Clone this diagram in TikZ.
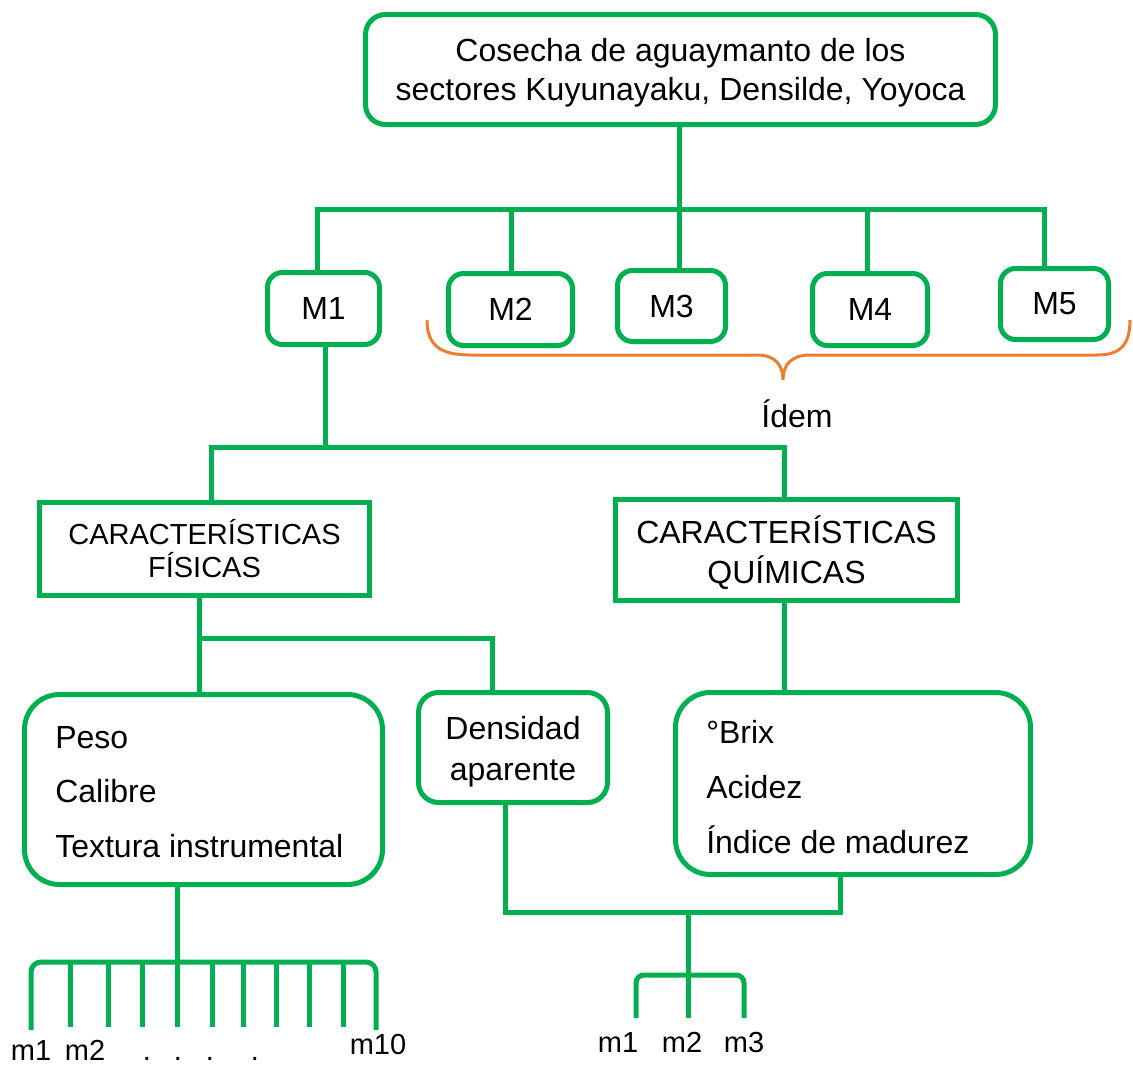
\documentclass[tikz,border=0pt]{standalone}
\usepackage{fontspec}
\setmainfont{Liberation Sans}
\definecolor{gr}{HTML}{00B050}
\definecolor{orb}{HTML}{ED7D31}
\begin{document}
\begin{tikzpicture}[x=0.75pt,y=-0.75pt,
  ln/.style={draw=gr,line width=3.75pt},
  gbox/.style={draw=gr,line width=3.75pt,inner sep=0pt,align=center,font=\fontsize{24}{29}\selectfont},
  rbox/.style={gbox,rounded corners=15*0.75pt},
  txt/.style={inner sep=0pt,font=\fontsize{24}{29}\selectfont},
  stxt/.style={inner sep=0pt,font=\fontsize{21.75}{26}\selectfont}]
\useasboundingbox (0,0) rectangle (1133,1065);

% boxes
\node[rbox,rounded corners=20*0.75pt,minimum width=630*0.75pt,minimum height=110*0.75pt] (top) at (680.5,69.5) {};
\node[txt,align=center] (toptxt) at (680.5,72.5)
  {Cosecha de aguaymanto de los\\sectores Kuyunayaku, Densilde, Yoyoca};
\node[rbox,minimum width=112*0.75pt,minimum height=72*0.75pt] (M1) at (323.5,308.5) {M1};
\node[rbox,minimum width=124*0.75pt,minimum height=72*0.75pt] (M2) at (510.5,309.5) {M2};
\node[rbox,minimum width=108*0.75pt,minimum height=71*0.75pt] (M3) at (671.5,306) {M3};
\node[rbox,minimum width=115*0.75pt,minimum height=72*0.75pt] (M4) at (870,309.5) {M4};
\node[rbox,minimum width=108*0.75pt,minimum height=71*0.75pt] (M5) at (1054.5,304) {M5};

\node[gbox,font=\fontsize{21.75}{24.75}\selectfont,minimum width=330*0.75pt,minimum height=93*0.75pt] (CF) at (204.5,549)
  {CARACTERÍSTICAS\\FÍSICAS};
\node[gbox,minimum width=342*0.75pt,minimum height=101*0.75pt] (CQ) at (786.5,550) {};
\node[txt,align=center,font=\fontsize{24}{30}\selectfont] (CQtxt) at (786.5,552.5)
  {CARACTERÍSTICAS\\QUÍMICAS};

\node[rbox,rounded corners=35*0.75pt,minimum width=358*0.75pt,minimum height=190*0.75pt] (Peso) at (203.5,789.5) {};
\node[rbox,rounded corners=20*0.75pt,minimum width=189*0.75pt,minimum height=110*0.75pt] (Dens) at (513,747.5) {};
\node[txt,align=center,font=\fontsize{24}{30.75}\selectfont] (Denstxt) at (513,751.5)
  {Densidad\\aparente};
\node[rbox,rounded corners=35*0.75pt,minimum width=355*0.75pt,minimum height=182*0.75pt] (Brix) at (853,783.5) {};

% texts inside boxes
\node[txt,anchor=base west] (t1) at (55,748) {Peso};
\node[txt,anchor=base west] (t2) at (55,802) {Calibre};
\node[txt,anchor=base west] (t3) at (55,857) {Textura instrumental};
\node[txt,anchor=base west] (q1) at (706,743) {°Brix};
\node[txt,anchor=base west] (q2) at (706,798) {Acidez};
\node[txt,anchor=base west] (q3) at (706,853) {Índice de madurez};

% top bus
\coordinate (d1) at (317,209);
\coordinate (d2) at (511,209);
\coordinate (d3) at (679,209);
\coordinate (d4) at (867,209);
\coordinate (d5) at (1044,209);
\draw[ln] (M1.north -| d1) -- (d1) -- (d5) -- (M5.north -| d5);
\draw[ln] (d2) -- (M2.north -| d2);
\draw[ln] (top.south -| d3) -- (d3) -- (M3.north -| d3);
\draw[ln] (d4) -- (M4.north -| d4);

% brace and Idem
\draw[orb,line width=2.25pt] (427,320) .. controls (427,345) and (440,355) .. (470,355) -- (757,355)
  .. controls (775,355) and (783,365) .. (783,380)
  .. controls (783,365) and (791,355) .. (810,355) -- (1097,355)
  .. controls (1120,355) and (1130,345) .. (1130,320);
\node[txt] (idem) at (797,414) {Ídem};

% M1 to characteristics
\coordinate (e1) at (325,447);
\coordinate (eL) at (211,447);
\coordinate (eR) at (784,447);
\draw[ln] (M1.south -| e1) -- (e1);
\draw[ln] (CF.north -| eL) -- (eL) -- (eR) -- (CQ.north -| eR);

% physical branch
\coordinate (f1) at (199,638);
\coordinate (fR) at (492,638);
\draw[ln] (CF.south -| f1) -- (f1) -- (fR) -- (Dens.north -| fR);
\draw[ln] (f1) -- (Peso.north -| f1);

% chemical branch
\coordinate (g1) at (784,0);
\draw[ln] (CQ.south -| g1) -- (Brix.north -| g1);

% lower join
\coordinate (h1) at (505,912);
\coordinate (h2) at (840,912);
\coordinate (h3) at (688,912);
\draw[ln] (Dens.south -| h1) -- (h1) -- (h2) -- (Brix.south -| h2);

% small bracket m1 m2 m3
\coordinate (k2) at (688,975);
\coordinate (k1) at (636,1018);
\coordinate (k3) at (744,1018);
\coordinate (km) at (688,1018);
\draw[ln] (h3) -- (k2) -- (km);
\draw[ln,rounded corners=8*0.75pt] (k1) |- (k2) -| (k3);
\node[stxt,anchor=base] (sm1) at (618,1052) {m1};
\node[stxt,anchor=base] (sm2) at (682,1052) {m2};
\node[stxt,anchor=base] (sm3) at (744,1052) {m3};

% big bracket m1 ... m10
\coordinate (j0) at (177,962);
\coordinate (j1) at (31,1030);
\coordinate (j10) at (376,1030);
\draw[ln] (Peso.south -| j0) -- (j0) -- (177,1027);
\draw[ln,rounded corners=10*0.75pt] (j1) |- (j0) -| (j10);
\foreach \xx in {70,108,142,212,243,276,309,343}
  \draw[ln] (\xx,962) -- (\xx,1027);
\node[stxt,anchor=base] (bm1) at (31,1060) {m1};
\node[stxt,anchor=base] (bm2) at (85,1060) {m2};
\node[stxt,anchor=base] (bm10) at (378,1054) {m10};
\foreach \xx/\nm in {147/da,178/db,210/dc,255/dd}
  \node[stxt,anchor=base] (\nm) at (\xx,1060) {.};
\end{tikzpicture}
\end{document}
